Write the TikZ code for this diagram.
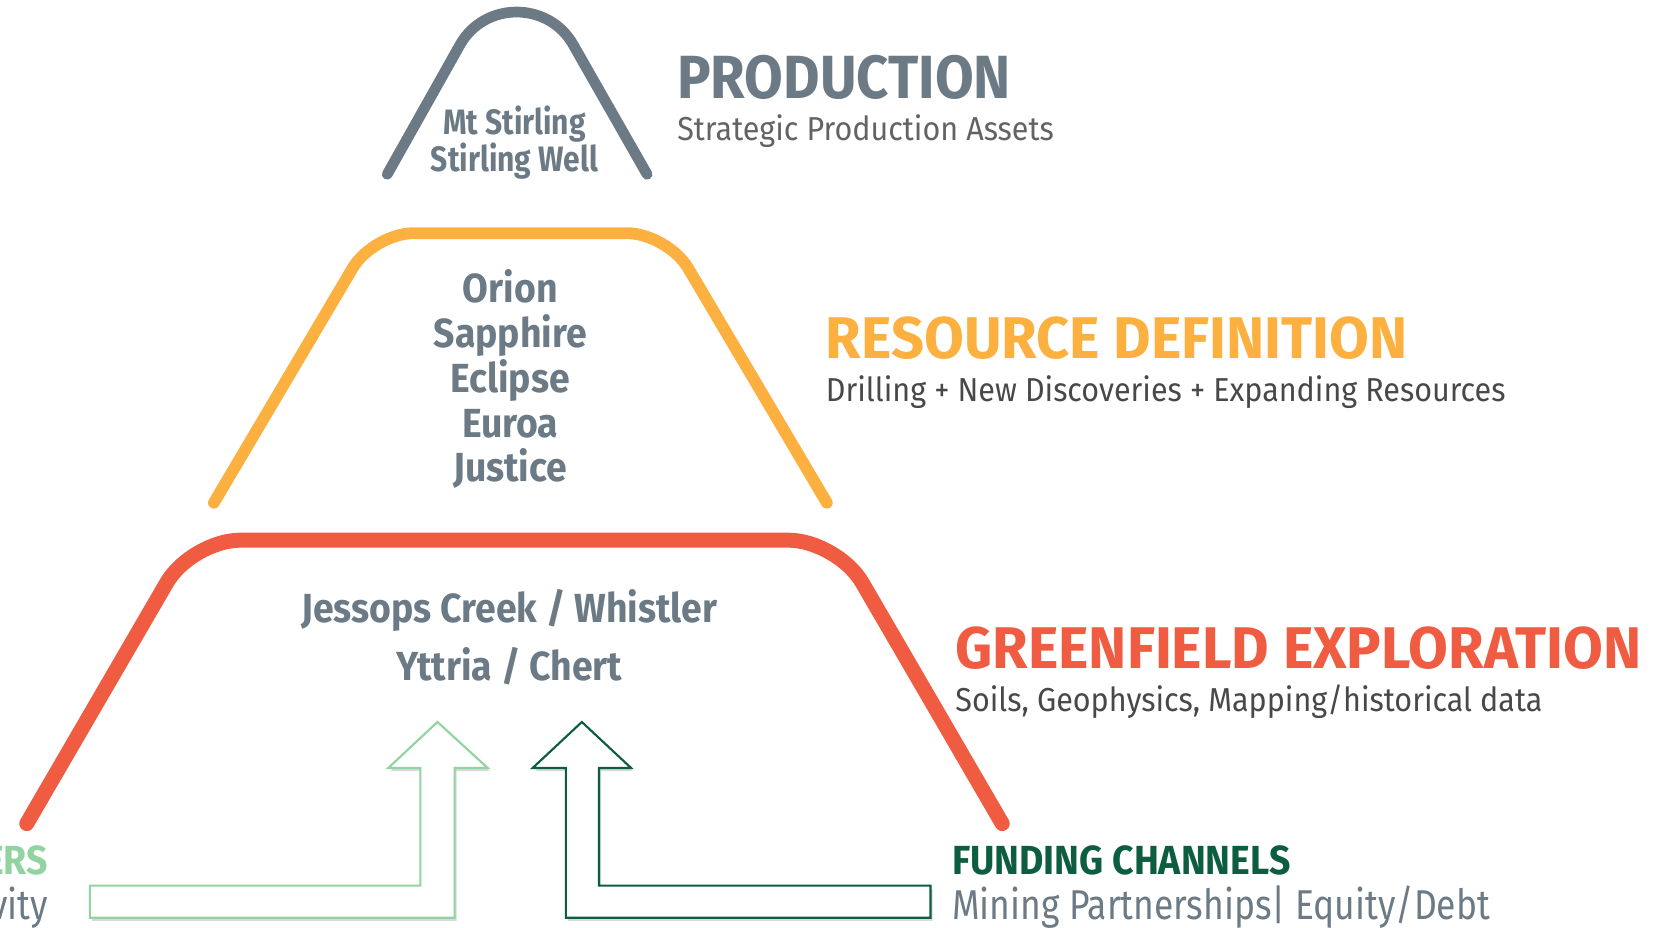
\documentclass[tikz,border=0pt]{standalone}
\usepackage{fontspec}
\setmainfont[FakeStretch=0.92]{Fira Sans}
\newfontfamily\capfont[FakeStretch=0.98]{Fira Sans}
\newfontfamily\narrowfont[FakeStretch=0.85]{Fira Sans}
\usetikzlibrary{shadows}
\definecolor{slate}{RGB}{107,122,132}
\definecolor{amber}{RGB}{251,176,64}
\definecolor{coral}{RGB}{240,92,66}
\definecolor{pine}{RGB}{13,94,64}
\definecolor{mint}{RGB}{147,211,162}
\definecolor{ink}{RGB}{72,72,72}
\tikzset{
  tier/.style={line cap=round, line join=round},
  head/.style={anchor=base west, inner sep=0pt, font=\capfont\fontsize{55}{60}\selectfont\bfseries},
  sub/.style={anchor=base west, inner sep=0pt, text=ink, font=\fontsize{31}{36}\selectfont},
  site/.style={anchor=base, inner sep=0pt, text=slate, font=\fontsize{38}{42}\selectfont\bfseries},
  flow/.style={line width=2pt, fill=white, drop shadow={shadow xshift=2pt, shadow yshift=-3pt, opacity=.3}}
}
\begin{document}
\begin{tikzpicture}[x=1pt,y=-1pt]
\useasboundingbox (0,0) rectangle (1566,867);
\draw [tier, slate, line width=10pt] (362,163) -- (430,42) .. controls (453,1) and (513,1) .. (536,42) -- (605,163);
\draw [tier, amber, line width=11pt, rounded corners=38pt] (200,470) -- (349,218) -- (624,218) -- (773,470);
\draw [tier, coral, line width=14pt, rounded corners=46pt] (25,770) -- (179,505) -- (783,505) -- (937,770);
\node [site, font=\narrowfont\fontsize{33}{36}\selectfont\bfseries] (mt) at (481,126) {Mt Stirling};
\node [site, font=\narrowfont\fontsize{33}{36}\selectfont\bfseries] (well) at (481,160) {Stirling Well};
\node [site] (orion) at (477,283) {Orion};
\node [site] (sapphire) at (477,325) {Sapphire};
\node [site] (eclipse) at (477,367) {Eclipse};
\node [site] (euroa) at (477,409) {Euroa};
\node [site] (justice) at (477,450) {Justice};
\node [site] (jessops) at (476,582) {Jessops Creek / Whistler};
\node [site] (yttria) at (476,636) {Yttria / Chert};
\node [head, text=slate, font=\fontsize{57}{62}\selectfont\bfseries] (prod) at (633,92) {PRODUCTION};
\node [sub, text=ink!85] (prodsub) at (633,131) {Strategic Production Assets};
\node [head, text=amber] (res) at (772,335) {RESOURCE DEFINITION};
\node [sub] (ressub) at (772,375) {Drilling + New Discoveries + Expanding Resources};
\node [head, text=coral] (green) at (893,625) {GREENFIELD EXPLORATION};
\node [sub] (greensub) at (893,665) {Soils, Geophysics, Mapping/historical data};
\node [head, text=pine, font=\fontsize{38}{42}\selectfont\bfseries] (fund) at (890,818) {FUNDING CHANNELS};
\node [sub, text=slate, font=\narrowfont\fontsize{39}{42}\selectfont] (fundsub) at (890,860) {Mining Partnerships| Equity/Debt};
\node [head, anchor=base east, text=mint, font=\fontsize{38}{42}\selectfont\bfseries] (ers) at (45,818) {ERS};
\node [sub, anchor=base east, text=slate, font=\narrowfont\fontsize{39}{42}\selectfont] (vity) at (45,860) {vity};
\draw [flow, draw=mint] (409,675) -- (456,718) -- (425,718) -- (425,858) -- (84,858) -- (84,828) -- (393,828) -- (393,718) -- (363,718) -- cycle;
\draw [flow, draw=pine] (544,675) -- (590,718) -- (560,718) -- (560,828) -- (870,828) -- (870,858) -- (529,858) -- (529,718) -- (498,718) -- cycle;
\end{tikzpicture}
\end{document}
